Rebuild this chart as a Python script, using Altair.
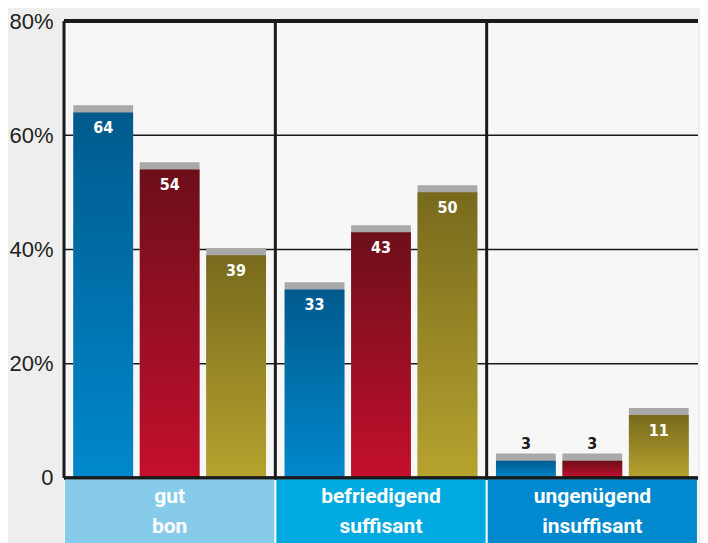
import altair as alt
import pandas as pd

# ---- data ----
categories_de = ["gut", "befriedigend", "ungenügend"]
categories_fr = ["bon", "suffisant", "insuffisant"]
series_names = ["Serie 1", "Serie 2", "Serie 3"]
values_s1 = [64, 33, 3]
values_s2 = [54, 43, 3]
values_s3 = [39, 50, 11]
y_ticks = [0, 20, 40, 60, 80]
grid_values = [20, 40, 60]
category_colors = ["#87cbeb", "#00a9e0", "#0089cf"]
series_gradients = [("#005a8c", "#0088cc"), ("#6c0f19", "#c40f2d"), ("#776a1d", "#b6a32e")]

series_values = [values_s1, values_s2, values_s3]
rows = []
for s, vals in zip(series_names, series_values):
    for c, v in zip(categories_de, vals):
        rows.append({"cat": c, "series": s, "value": v})
df = pd.DataFrame(rows)
cat_df = pd.DataFrame({"cat": categories_de,
                       "label": [f"{d}\n{f}" for d, f in zip(categories_de, categories_fr)]})
grid_df = pd.DataFrame({"v": grid_values})

Y_MIN = -11.4
Y_MAX = 80
CAP = 1.25
NUM_FONT = "Liberation Sans Narrow, DejaVu Sans Condensed, sans-serif"

y_scale = alt.Scale(domain=[Y_MIN, Y_MAX], nice=False, zero=False)
y_axis = alt.Axis(values=y_ticks, title=None, domain=False, ticks=False, grid=False,
                  labelExpr="datum.value == 0 ? '0' : datum.value + '%'",
                  labelFont="Liberation Sans", labelFontSize=22, labelColor="#231f20",
                  labelPadding=11)


def X(**kw):
    return alt.X("cat:N", sort=categories_de,
                 scale=alt.Scale(domain=categories_de, paddingInner=0, paddingOuter=0),
                 axis=None, **kw)


XO = alt.XOffset("series:N",
                 scale=alt.Scale(domain=series_names, paddingInner=0.1, paddingOuter=0.14))

# thin horizontal gridlines
grid = alt.Chart(grid_df).mark_rule(color="#1a1a1a", strokeWidth=1.5).encode(
    y=alt.Y("v:Q", scale=y_scale, axis=y_axis)
)

# grey 3D caps behind the bars
caps = alt.Chart(df).transform_calculate(top=f"datum.value + {CAP}").mark_bar(
    color="#a9a9a9", cornerRadius=0
).encode(
    x=X(), xOffset=XO,
    y=alt.Y("top:Q", scale=y_scale, axis=y_axis, stack=None),
    y2=alt.Y2(datum=0),
)

bar_layers = []
for s, (top, bottom) in zip(series_names, series_gradients):
    grad = alt.Gradient(gradient="linear",
                        stops=[alt.GradientStop(offset=0, color=top),
                               alt.GradientStop(offset=1, color=bottom)],
                        x1=0, x2=0, y1=0, y2=1)
    bar_layers.append(
        alt.Chart(df).transform_filter(alt.datum.series == s).mark_bar(
            color=grad, cornerRadius=0
        ).encode(
            x=X(), xOffset=XO,
            y=alt.Y("value:Q", scale=y_scale, axis=y_axis, stack=None),
            y2=alt.Y2(datum=0),
        )
    )

# vertical separators
vlines = alt.Chart(cat_df).mark_rule(color="#1a1a1a", strokeWidth=3).encode(
    x=X(bandPosition=0),
    y=alt.Y(datum=0, scale=y_scale, axis=y_axis),
    y2=alt.Y2(datum=Y_MAX),
)

top_line = alt.Chart(cat_df).mark_rule(color="#1a1a1a", strokeWidth=4).encode(
    y=alt.Y(datum=Y_MAX, scale=y_scale, axis=y_axis)
)
zero_line = alt.Chart(cat_df).mark_rule(color="#1a1a1a", strokeWidth=3).encode(
    y=alt.Y(datum=0, scale=y_scale, axis=y_axis)
)

# category boxes below the plot
boxes = alt.Chart(cat_df).mark_bar(width=alt.RelativeBandSize(0.99), cornerRadius=0).encode(
    x=X(),
    y=alt.Y(datum=Y_MIN, scale=y_scale, axis=y_axis),
    y2=alt.Y2(datum=-0.3),
    color=alt.Color("cat:N", scale=alt.Scale(domain=categories_de, range=category_colors),
                    legend=None),
)
box_text = alt.Chart(cat_df).mark_text(
    color="white", font="Roboto", fontWeight="bold", fontSize=21,
    lineBreak="\n", lineHeight=30, baseline="middle", align="center"
).encode(
    x=X(),
    y=alt.Y(datum=-3.3, scale=y_scale, axis=y_axis),
    text="label:N",
)

# value labels
lab_in = alt.Chart(df).transform_filter(alt.datum.value >= 8).mark_text(
    color="white", font=NUM_FONT, fontWeight="bold", fontSize=16,
    baseline="middle", align="center", dy=16
).encode(
    x=X(), xOffset=XO,
    y=alt.Y("value:Q", scale=y_scale, axis=y_axis, stack=None),
    text="value:Q",
)
lab_out = alt.Chart(df).transform_filter(alt.datum.value < 8).mark_text(
    color="#1a1a1a", font=NUM_FONT, fontWeight="bold", fontSize=16,
    baseline="middle", align="center", dy=-17
).encode(
    x=X(), xOffset=XO,
    y=alt.Y("value:Q", scale=y_scale, axis=y_axis, stack=None),
    text="value:Q",
)

chart = alt.layer(
    grid, caps, *bar_layers, vlines, top_line, zero_line, boxes, box_text, lab_in, lab_out
).properties(
    width=692, height=535,
    autosize=alt.AutoSizeParams(type="fit", contains="padding"),
    padding={"left": 0, "top": 2, "right": 0, "bottom": 0},
    background="#eeeeee",
).configure_view(fill="#f7f7f7", stroke=None)

chart.save("out.html", embed_options={"renderer": "svg", "actions": False})
